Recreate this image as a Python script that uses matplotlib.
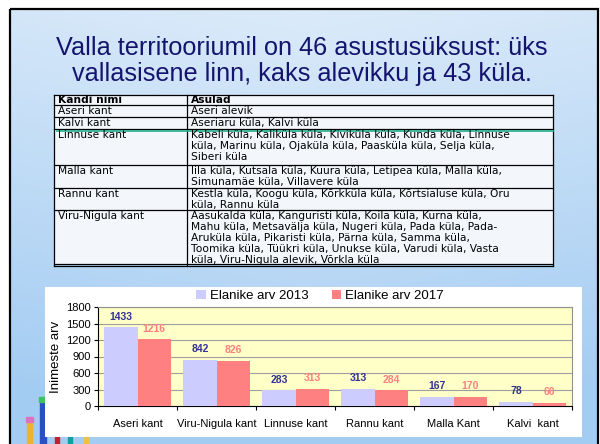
import numpy as np
import matplotlib
matplotlib.use("Agg")
import matplotlib.pyplot as plt
from matplotlib.patches import Rectangle

# ---- data ----
kandid = ["Aseri kant", "Viru-Nigula kant", "Linnuse kant", "Rannu kant", "Malla Kant", "Kalvi  kant"]
elanikud_2013 = [1433, 842, 283, 313, 167, 78]
elanikud_2017 = [1216, 826, 313, 284, 170, 60]

pealkiri = ["Valla territooriumil on 46 asustusüksust: üks",
            "vallasisene linn, kaks alevikku ja 43 küla."]

tabel_kantid = ["Aseri kant", "Kalvi kant", "Linnuse kant", "Malla kant", "Rannu kant", "Viru-Nigula kant"]
tabel_asulad = [
    ["Aseri alevik"],
    ["Aseriaru küla, Kalvi küla"],
    ["Kabeli küla, Kaliküla küla, Kiviküla küla, Kunda küla, Linnuse",
     "küla, Marinu küla, Ojaküla küla, Paasküla küla, Selja küla,",
     "Siberi küla"],
    ["Iila küla, Kutsala küla, Kuura küla, Letipea küla, Malla küla,",
     "Simunamäe küla, Villavere küla"],
    ["Kestla küla, Koogu küla, Kõrkküla küla, Kõrtsialuse küla, Oru",
     "küla, Rannu küla"],
    ["Aasukalda küla, Kanguristi küla, Koila küla, Kurna küla,",
     "Mahu küla, Metsavälja küla, Nugeri küla, Pada küla, Pada-",
     "Aruküla küla, Pikaristi küla, Pärna küla, Samma küla,",
     "Toomika küla, Tüükri küla, Unukse küla, Varudi küla, Vasta",
     "küla, Viru-Nigula alevik, Võrkla küla"],
]

W, H = 600, 444
fig = plt.figure(figsize=(6, 4.44), dpi=100)

# background layer in pixel coordinates
bg = fig.add_axes([0, 0, 1, 1])
bg.set_xlim(0, W)
bg.set_ylim(H, 0)
bg.axis("off")

# slide gradient (light at top, bluer lower down)
yy, xx = np.mgrid[0:H, 0:W]
t = np.clip(yy / H + 0.25 * np.abs(xx - W / 2) / W, 0, 1)
top = np.array([0.86, 0.92, 0.98])
bot = np.array([0.64, 0.80, 0.95])
grad = top[None, None, :] * (1 - t[..., None]) + bot[None, None, :] * t[..., None]
bg.imshow(grad, extent=[10, 598, H, 9], aspect="auto", zorder=0)
bg.add_patch(Rectangle((10, 9), 588, 440, fill=False, edgecolor="black", lw=1.6, zorder=1))

# decorative pencils bottom-left
for x0, y0, w, c, tip in [(27, 421, 5, "#f0b030", "#e070c0"), (40, 401, 6, "#2850c0", "#40c060"),
                         (55, 437, 4, "#c02030", None), (68, 437, 4, "#10a0a0", None),
                         (84, 437, 4, "#f0c040", None)]:
    bg.add_patch(Rectangle((x0, y0), w, H - y0, color=c, zorder=2))
    if tip:
        bg.add_patch(Rectangle((x0 - 1, y0 - 4), w + 2, 5, color=tip, zorder=2))

# title
for i, line in enumerate(pealkiri):
    bg.text(302, 48 + 26 * i, line, ha="center", va="center", fontsize=18.2,
            family="Liberation Sans", color="#14146e", zorder=3)

# ---- table ----
tx0, tx1, tcol = 54, 553, 187
rows_y = [95, 105.5, 117, 129, 165, 188, 210, 264]
bg.add_patch(Rectangle((tx0, rows_y[0]), tx1 - tx0, rows_y[-1] - rows_y[0],
                       facecolor="#f3f7fc", edgecolor="none", zorder=2))
for y in rows_y:
    bg.plot([tx0, tx1], [y, y], color="black", lw=0.9, zorder=3)
bg.plot([tx0, tx1], [rows_y[-1] + 1.5] * 2, color="black", lw=0.9, zorder=3)
for x in [tx0, tcol, tx1]:
    bg.plot([x, x], [rows_y[0], rows_y[-1] + 1.5], color="black", lw=0.9, zorder=3)
bg.plot([57, tx1], [131, 131], color="#20b090", lw=1.2, zorder=4)

fs = 7.7
bg.text(tx0 + 4, rows_y[0] + 5.0, "Kandi nimi", fontsize=fs, weight="bold", va="center", zorder=5)
bg.text(tcol + 4, rows_y[0] + 5.0, "Asulad", fontsize=fs, weight="bold", va="center", zorder=5)
for r, (kant, lines) in enumerate(zip(tabel_kantid, tabel_asulad)):
    ytop = rows_y[r + 1]
    bg.text(tx0 + 4, ytop + 5.6, kant, fontsize=fs, va="center", zorder=5)
    for j, ln in enumerate(lines):
        bg.text(tcol + 4, ytop + 5.6 + 11 * j, ln, fontsize=fs, va="center", zorder=5)

# ---- chart ----
bg.add_patch(Rectangle((45, 287), 537, 150, facecolor="white", edgecolor="none", zorder=3))

ax = fig.add_axes([98 / W, (H - 406) / H, (572 - 98) / W, (406 - 307) / H])
ax.set_facecolor("#ffffc8")
x = np.arange(len(kandid))
bw = 0.42
b1 = ax.bar(x - bw / 2, elanikud_2013, bw, color="#ccccff", label="Elanike arv 2013", zorder=3)
b2 = ax.bar(x + bw / 2, elanikud_2017, bw, color="#ff8080", label="Elanike arv 2017", zorder=3)

for bars, col in [(b1, "#333399"), (b2, "#ff8080")]:
    for b in bars:
        ax.annotate(str(int(b.get_height())), (b.get_x() + b.get_width() / 2, b.get_height()),
                    xytext=(0, 4), textcoords="offset points", ha="center", va="bottom",
                    fontsize=7.5, weight="bold", color=col, family="Liberation Sans")

ax.set_xlim(-0.5, len(kandid) - 0.5)
ax.set_ylim(0, 1800)
ax.set_yticks(range(0, 1801, 300))
ax.yaxis.grid(True, color="#a0a0a0", lw=0.8, zorder=0)
ax.set_xticks(np.arange(-0.5, len(kandid)), labels=[""] * (len(kandid) + 1))
ax.set_xticks(x, labels=kandid, minor=True)
ax.tick_params(axis="x", which="minor", length=0, pad=9, labelsize=8)
ax.tick_params(axis="x", which="major", length=3, direction="out")
ax.tick_params(axis="y", length=3, labelsize=8, pad=2)
for lab in ax.get_xticklabels(minor=True) + ax.get_yticklabels():
    lab.set_family("Liberation Sans")
for s in ["top", "right"]:
    ax.spines[s].set_color("#909090")
ax.set_ylabel("Inimeste arv", fontsize=9.5, family="Liberation Sans", labelpad=3)

leg = fig.legend(handles=[b1, b2], loc="center", bbox_to_anchor=(320 / W, 1 - 296 / H), ncol=2,
                 frameon=False, handlelength=0.7, handleheight=0.7,
                 handletextpad=0.3, columnspacing=1.8, prop={"family": "Liberation Sans", "size": 9.5})

fig.savefig("out.png", dpi=100)
